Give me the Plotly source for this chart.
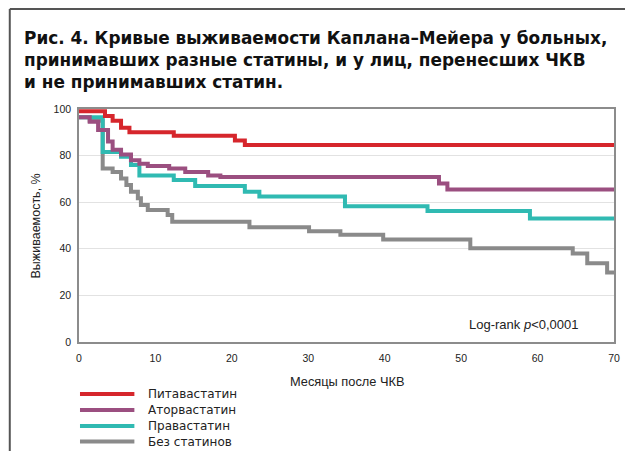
import plotly.graph_objects as go

# ---- data ----
series_names = ["Питавастатин", "Аторвастатин", "Правастатин", "Без статинов"]
series_colors = ["#d6262c", "#9b4f80", "#30bab2", "#8a8a8a"]

pita_t = [0, 3.4, 4.4, 5.5, 6.6, 12.4, 20.4, 21.7, 70]
pita_s = [99, 97, 95, 92, 90, 88.5, 86.5, 84.5, 84.5]

atorva_t = [0, 1.4, 2.5, 3.8, 4.4, 5.5, 6.8, 7.9, 9, 11.8, 13.9, 16.9, 18.5, 47.1, 48.2, 70]
atorva_s = [96.5, 94.5, 91, 86, 82.5, 80.5, 78, 76.5, 75.5, 74.5, 73, 71.5, 70.8, 68, 65.5, 65.5]

prava_t = [0, 3.1, 5.5, 6.8, 7.9, 12.4, 15.2, 21.7, 23.6, 34.8, 45.6, 59, 70]
prava_s = [96.5, 81.5, 79.5, 76, 71.5, 69.5, 67, 64.5, 62.4, 58.3, 56.2, 53, 53]

none_t = [0, 1.4, 3.1, 4.4, 5.5, 6.2, 6.8, 7.7, 8.1, 9, 11.6, 12.2, 22.3, 30.1, 34.2, 39.8, 51.2, 64.6, 66.5, 69.1, 70]
none_s = [96.5, 95, 74.5, 73, 70.2, 67.4, 64.5, 61.7, 58.8, 56.7, 54.5, 51.6, 49.3, 47.5, 46, 44, 40.2, 38, 33.8, 29.8, 29.8]

x_ticks = [0, 10, 20, 30, 40, 50, 60, 70]
y_ticks = [0, 20, 40, 60, 80, 100]

title_lines = ["Рис. 4. Кривые выживаемости Каплана–Мейера у больных,",
               "принимавших разные статины, и у лиц, перенесших ЧКВ",
               "и не принимавших статин."]
x_title = "Месяцы после ЧКВ"
y_title = "Выживаемость, %"
logrank_text = "Log-rank <i>p</i>&lt;0,0001"

all_t = [pita_t, atorva_t, prava_t, none_t]
all_s = [pita_s, atorva_s, prava_s, none_s]

FONT = "Liberation Sans, Arial, Helvetica, sans-serif"
TFONT = "DejaVu Sans, Liberation Sans, Arial, sans-serif"

fig = go.Figure()
# draw gray first so red is on top
for i in reversed(range(4)):
    fig.add_trace(go.Scatter(
        x=all_t[i], y=all_s[i], mode="lines", line_shape="hv",
        name=series_names[i], showlegend=False,
        line=dict(color=series_colors[i], width=4),
    ))

# the page body adds an 8px margin on every side; size the figure to fit inside
OFF = 8
W, H = 633 - 2 * OFF, 459 - 2 * OFF
L = 79 - OFF
T = 109 - OFF
R = (OFF + W) - 620
B = (OFF + H) - 342

fig.update_layout(
    width=W, height=H, autosize=False,
    margin=dict(l=L, r=R, t=T, b=B),
    paper_bgcolor="white", plot_bgcolor="white",
    font=dict(family=FONT, size=11, color="#222"),
    xaxis=dict(range=[0, 70], tickvals=x_ticks, showgrid=False, zeroline=False,
               showline=True, linecolor="#8c8c8c", linewidth=1.5, mirror=True,
               ticks="outside", ticklen=6, tickcolor="rgba(0,0,0,0)",
               tickfont=dict(size=10.5, color="#222")),
    yaxis=dict(range=[0, 100], tickvals=y_ticks, showgrid=True, gridcolor="#e2e2e2",
               gridwidth=1, zeroline=False,
               showline=True, linecolor="#8c8c8c", linewidth=1.5, mirror=True,
               ticks="outside", ticklen=4, tickcolor="rgba(0,0,0,0)",
               tickfont=dict(size=10.5, color="#222")),
)

pw = W - L - R
ph = H - T - B

# helpers: convert reference-page pixels to paper coordinates
def px_x(x):
    return (x - OFF - L) / pw

def px_y(y):
    return (H - B - (y - OFF)) / ph

annotations = [
    dict(text=x_title, xref="paper", yref="paper", x=px_x(350), y=px_y(381),
         showarrow=False, font=dict(size=12.8, color="#222"), xanchor="center", yanchor="middle"),
    dict(text=y_title, xref="paper", yref="paper", x=px_x(36), y=px_y(226),
         showarrow=False, textangle=-90, font=dict(size=12.5, color="#222"),
         xanchor="center", yanchor="middle"),
    dict(text=logrank_text, xref="paper", yref="paper", x=px_x(529), y=px_y(324),
         showarrow=False, font=dict(size=13, color="#222"), xanchor="center", yanchor="middle"),
]

title_y = [38, 60, 82]
for i, line in enumerate(title_lines):
    annotations.append(dict(text="<b>" + line + "</b>", xref="paper", yref="paper",
                            x=px_x(21), y=px_y(title_y[i]), showarrow=False,
                            xanchor="left", yanchor="middle",
                            font=dict(family=TFONT, size=16.9, color="#111")))

shapes = [
    # outer frame (top and left)
    dict(type="line", xref="paper", yref="paper", x0=px_x(9), x1=px_x(660),
         y0=px_y(9), y1=px_y(9), line=dict(color="#555", width=2)),
    dict(type="line", xref="paper", yref="paper", x0=px_x(9), x1=px_x(9),
         y0=px_y(9), y1=px_y(480), line=dict(color="#555", width=2)),
]

legend_y = [394, 410, 426, 441.5]
for i in range(4):
    shapes.append(dict(type="line", xref="paper", yref="paper",
                       x0=px_x(80), x1=px_x(135), y0=px_y(legend_y[i]), y1=px_y(legend_y[i]),
                       line=dict(color=series_colors[i], width=4)))
    annotations.append(dict(text=series_names[i], xref="paper", yref="paper",
                            x=px_x(147), y=px_y(legend_y[i]), showarrow=False,
                            xanchor="left", yanchor="middle",
                            font=dict(family=TFONT, size=12, color="#222")))

fig.update_layout(annotations=annotations, shapes=shapes)

fig.write_html("out.html", config={"displayModeBar": False})
